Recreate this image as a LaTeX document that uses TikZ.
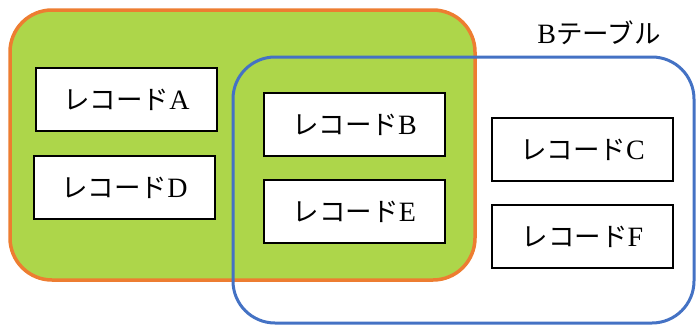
\documentclass[tikz,border=0pt]{standalone}
\usepackage{fontspec}
\setmainfont{Liberation Serif}
\newfontfamily\jp{Noto Sans CJK JP}
\definecolor{grn}{RGB}{173,214,74}
\definecolor{org}{RGB}{237,125,49}
\definecolor{blu}{RGB}{68,114,196}
\tikzset{
  txtfont/.style={font=\fontsize{28pt}{32pt}\selectfont},
  rec/.style={draw=black, line width=1.6pt, fill=white, minimum width=181pt, minimum height=63pt, inner sep=0pt, txtfont},
  grpbox/.style={draw=org, fill=grn, line width=3.5pt, rounded corners=42pt, inner sep=0pt},
  tblbox/.style={draw=blu, line width=3pt, rounded corners=42pt, inner sep=0pt}
}
\newcommand{\rc}[1]{{\jp\fontsize{26.5pt}{32pt}\selectfont レコード}#1}
\begin{document}
\begin{tikzpicture}[x=1pt,y=-1pt]
\useasboundingbox (0,0) rectangle (696,325);
\node[grpbox, minimum width=465pt, minimum height=270pt] (grp) at (242.5,145) {};
\node[rec] (A) at (126.5,99.5) {\rc{A}};
\node[rec] (D) at (124.5,187.5) {\rc{D}};
\node[rec] (B) at (354.5,124.5) {\rc{B}};
\node[rec] (E) at (354.5,211.5) {\rc{E}};
\node[rec] (C) at (582.5,149.5) {\rc{C}};
\node[rec] (F) at (582.5,236.5) {\rc{F}};
\node[tblbox, minimum width=461pt, minimum height=266pt] (tbl) at (463.5,190) {};
\node[txtfont] (lbl) at (599,33) {B{\jp\fontsize{26.5pt}{32pt}\selectfont テーブル}};
\end{tikzpicture}
\end{document}
